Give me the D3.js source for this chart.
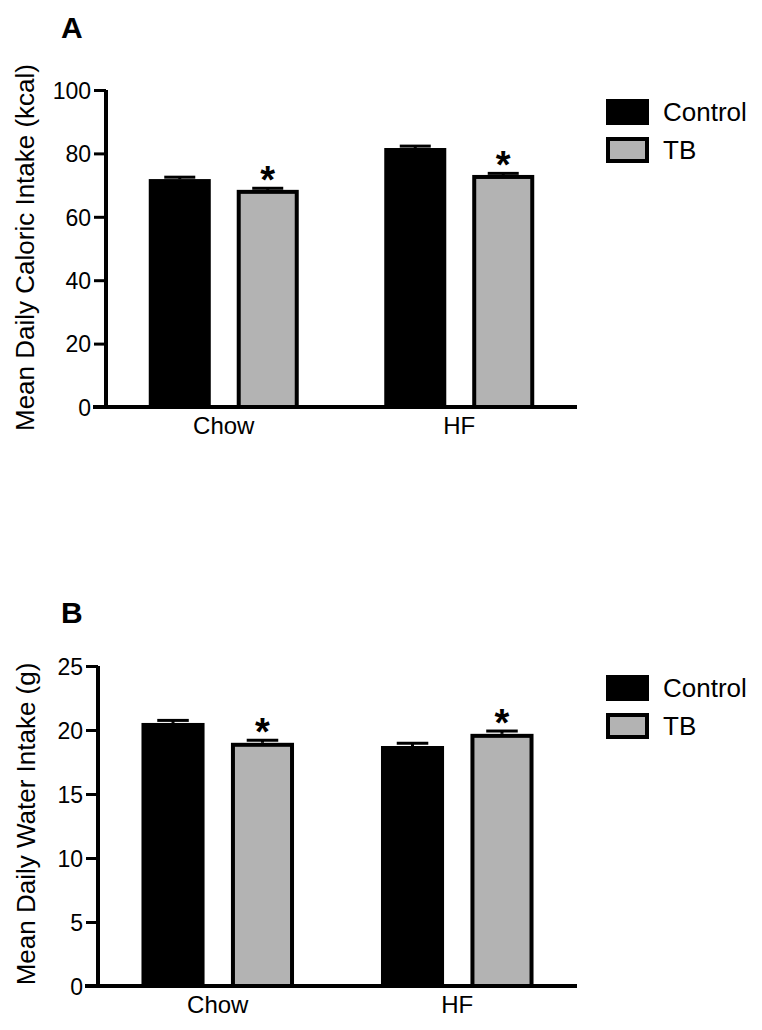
<!DOCTYPE html>
<html><head><meta charset="utf-8">
<script src="https://cdn.jsdelivr.net/npm/d3@7"></script>
<style>body{margin:0;background:#fff}svg{display:block}text{font-family:"Liberation Sans",Arial,sans-serif}</style>
</head><body>
<svg id="c" width="762" height="1030"></svg>
<script>
const categories = ["Chow", "HF"];
const series = ["Control", "TB"];
const seriesColors = ["#000000", "#b3b3b3"];

const caloricValues = [[71.9, 68.5], [81.7, 73.2]];
const caloricErrors = [[0.6, 0.5], [0.6, 0.5]];
const caloricSignif = [[false, true], [false, true]];
const caloricTicks = [0, 20, 40, 60, 80, 100];

const waterValues = [[20.55, 19.0], [18.75, 19.7]];
const waterErrors = [[0.2, 0.2], [0.22, 0.22]];
const waterSignif = [[false, true], [false, true]];
const waterTicks = [0, 5, 10, 15, 20, 25];

const svg = d3.select("#c");
const FF = '"Liberation Sans",Arial,sans-serif';

function panel(o) {
  const g = svg.append("g");
  const y = d3.scaleLinear().domain([0, o.max]).range([o.bottom, o.top]);
  const x0 = d3.scaleBand().domain(categories).range([o.left, o.right]);
  const x1 = d3.scaleBand().domain(series).range([0, x0.bandwidth()])
    .paddingInner(0.295).paddingOuter(0.486);

  // panel letter
  g.append("text").attr("x", 61).attr("y", o.letterY).text(o.letter)
    .attr("font-size", 30).attr("font-weight", "bold");

  // bars
  categories.forEach((c, ci) => {
    series.forEach((s, si) => {
      const v = o.values[ci][si], e = o.errors[ci][si];
      const bx = x0(c) + x1(s);
      const bw = x1.bandwidth();
      const cx = bx + bw / 2;
      g.append("line").attr("x1", cx).attr("x2", cx).attr("y1", y(v)).attr("y2", y(v + e))
        .attr("stroke", "#000").attr("stroke-width", 3);
      g.append("line").attr("x1", cx - bw / 4).attr("x2", cx + bw / 4).attr("y1", y(v + e)).attr("y2", y(v + e))
        .attr("stroke", "#000").attr("stroke-width", 3);
      g.append("rect").attr("x", bx + 2).attr("width", bw - 4)
        .attr("y", y(v) + 2).attr("height", y(0) - y(v) - 2)
        .attr("fill", seriesColors[si]).attr("stroke", "#000").attr("stroke-width", 4);
      if (o.signif[ci][si]) {
        g.append("text").attr("x", cx).attr("y", y(v + e) + 5).attr("text-anchor", "middle")
          .attr("font-size", 38).attr("font-weight", "bold").text("*");
      }
    });
  });

  // y axis
  const ya = g.append("g").attr("transform", `translate(${o.left},0)`)
    .call(d3.axisLeft(y).tickValues(o.ticks).tickSize(12).tickPadding(3));
  ya.select(".domain").attr("stroke-width", 4).attr("d", `M0,${o.bottom + 2}V${o.top}`);
  ya.selectAll(".tick line").attr("stroke-width", 3);
  ya.selectAll(".tick text").attr("font-size", 23).attr("font-family", FF).attr("fill", "#000").attr("dy", "0.36em");

  // x axis
  const xa = g.append("g").attr("transform", `translate(0,${o.bottom})`)
    .call(d3.axisBottom(x0).tickSize(0).tickPadding(10));
  xa.select(".domain").attr("stroke-width", 4).attr("d", `M${o.left - 13},0H${o.right}`);
  xa.selectAll(".tick text").attr("font-size", 24).attr("font-family", FF).attr("fill", "#000").attr("dy", "0.72em");

  // y title
  g.append("text").attr("transform", `translate(${o.titleX},${(o.top + o.bottom) / 2 + o.titleShift}) rotate(-90)`)
    .attr("text-anchor", "middle").attr("font-size", 26).text(o.title);

  // legend
  series.forEach((s, si) => {
    const ly = o.legendY + si * 38;
    g.append("rect").attr("x", 608).attr("y", ly + 2).attr("width", 39).attr("height", 22)
      .attr("fill", seriesColors[si]).attr("stroke", "#000").attr("stroke-width", 4);
    g.append("text").attr("x", 663).attr("y", ly + 22).attr("font-size", 26).text(s);
  });
}

panel({letter: "A", letterY: 38, top: 90, bottom: 407, left: 106, right: 577, max: 100,
  values: caloricValues, errors: caloricErrors, signif: caloricSignif, ticks: caloricTicks,
  title: "Mean Daily Caloric Intake (kcal)", titleX: 34, titleShift: -1, legendY: 99});

panel({letter: "B", letterY: 623, top: 666, bottom: 986, left: 98, right: 577, max: 25,
  values: waterValues, errors: waterErrors, signif: waterSignif, ticks: waterTicks,
  title: "Mean Daily Water Intake (g)", titleX: 35, titleShift: -2, legendY: 675});
</script>
</body></html>
